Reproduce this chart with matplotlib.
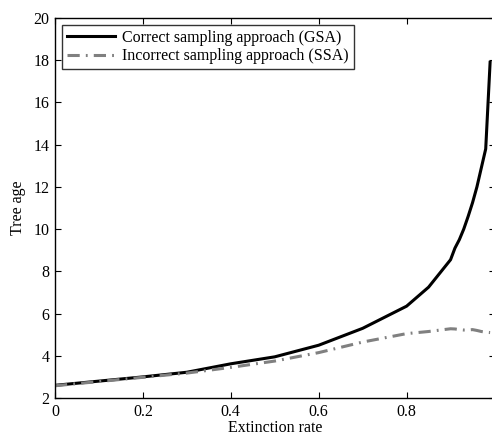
import matplotlib
matplotlib.use("Agg")
import matplotlib.pyplot as plt

# extinction rate samples
rate = [0.0, 0.1, 0.2, 0.3, 0.4, 0.5, 0.6, 0.7, 0.8, 0.85,
        0.9, 0.91, 0.92, 0.93, 0.94, 0.95, 0.96, 0.97, 0.98, 0.99]
# tree age, correct sampling (GSA)
gsa_age = [2.6, 2.8, 3.0, 3.22, 3.62, 3.95, 4.5, 5.3, 6.35, 7.25,
           8.55, 9.1, 9.5, 10.0, 10.6, 11.25, 12.0, 12.9, 13.8, 17.9]
# tree age, incorrect sampling (SSA)
ssa_age = [2.58, 2.78, 2.98, 3.18, 3.45, 3.75, 4.15, 4.65, 5.05, 5.15,
           5.28, 5.27, 5.24, 5.22, 5.22, 5.24, 5.2, 5.15, 5.12, 5.1]

xticks = [0, 0.2, 0.4, 0.6, 0.8, 1.0]
xticklabels = ["0", "0.2", "0.4", "0.6", "0.8", "1"]
yticks = [2, 4, 6, 8, 10, 12, 14, 16, 18, 20]

plt.rcParams["font.family"] = ["Liberation Serif", "DejaVu Serif"]
FS = 11.5

W, H = 492, 436
fig = plt.figure(figsize=(W / 100, H / 100), dpi=100)
# axes runs a little past the right edge (cropped like the original)
ax = fig.add_axes([55 / W, 38 / H, 439.5 / W, 380 / H])

ax.plot(rate, gsa_age, color="black", linewidth=2.2,
        label="Correct sampling approach (GSA)")
ax.plot(rate, ssa_age, color="#808080", linewidth=2.2, dashes=[4, 2, 0.6, 2],
        label="Incorrect sampling approach (SSA)")

ax.set_xlim(0, 1)
ax.set_ylim(2, 20)
ax.set_xticks(xticks)
ax.set_xticklabels(xticklabels)
ax.set_yticks(yticks)
ax.tick_params(direction="in", top=True, right=True, length=4, width=0.8,
               labelsize=FS)
ax.tick_params(axis="x", pad=4)
ax.tick_params(axis="y", pad=4)
for sp in ax.spines.values():
    sp.set_linewidth(1.0)

ax.set_xlabel("Extinction rate", fontsize=FS, labelpad=0)
ax.set_ylabel("Tree age", fontsize=FS, labelpad=5)

leg = ax.legend(loc="upper left", fontsize=FS, frameon=True, fancybox=False,
                edgecolor="black", handlelength=3.0, borderpad=0.3,
                labelspacing=0.15, handletextpad=0.45,
                borderaxespad=0.45)
leg.get_frame().set_linewidth(1.0)

fig.savefig("out.png", dpi=100, facecolor="white")
